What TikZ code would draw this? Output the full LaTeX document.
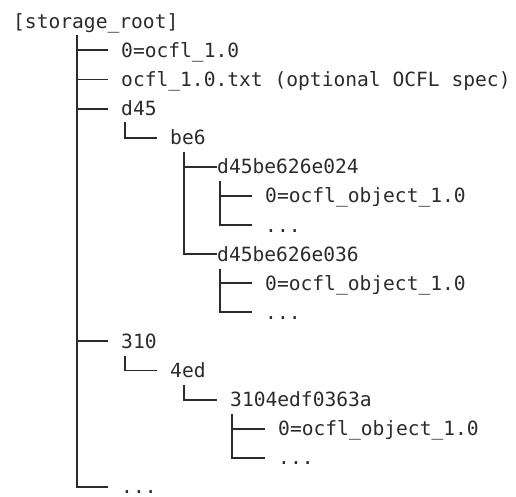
\documentclass[tikz,border=0pt]{standalone}
\usepackage{fontspec}
\setmonofont{DejaVu Sans Mono}
\usepackage{tikz}
\usetikzlibrary{positioning}
\definecolor{ink}{HTML}{2B2B2B}

\begin{document}
\begin{tikzpicture}[
	x=1pt, y=-1pt,
	every node/.style = {anchor=west, inner ysep=0pt, inner xsep=13pt,
	text=ink, font=\ttfamily\fontsize{19.6}{23}\selectfont,
	text height=16pt, text depth=2pt},
	tight/.style={inner xsep=0pt},
	branch/.style={draw=ink, line width=1.9pt}
]
\useasboundingbox (0,0) rectangle (516,497);

\node[inner xsep=0pt] (root) at (13,21.3) {[storage\_root]};
\node (nam) at (108,50.4) {0=ocfl\_1.0};
\node (spec) at (108,79.5) {ocfl\_1.0.txt (optional OCFL spec)};
\node (d) at (108,108.6) {d45};
\node (be) at (157,137.7) {be6};
\node[tight] (oa) at (217,166.8) {d45be626e024};
\node (oanam) at (252,195.9) {0=ocfl\_object\_1.0};
\node (oadots) at (252,225) {...};
\node[tight] (ob) at (217,254.1) {d45be626e036};
\node (obnam) at (252,283.2) {0=ocfl\_object\_1.0};
\node (obdots) at (252,312.3) {...};
\node (t) at (108,341.4) {310};
\node (ed) at (157,370.5) {4ed};
\node (oc) at (217,399.6) {3104edf0363a};
\node (ocnam) at (265,428.7) {0=ocfl\_object\_1.0};
\node (ocdots) at (265,457.8) {...};
\node (more) at (108,486.9) {...};

\coordinate (trunk) at (77,35.5);
\coordinate (dtrunk) at (125,122.5);
\coordinate (betrunk) at (184,152);
\coordinate (oatrunk) at (220,181);
\coordinate (obtrunk) at (220,268.5);
\coordinate (ttrunk) at (125,355.5);
\coordinate (edtrunk) at (184,384.5);
\coordinate (octrunk) at (232,414);

\foreach \c in {nam, spec, d, t, more}
	\draw[branch] (trunk) |- (\c.west);
\draw[branch] (dtrunk) |- (be.west);
\foreach \c in {oa, ob}
	\draw[branch] (betrunk) |- (\c.west);
\foreach \c in {oanam, oadots}
	\draw[branch] (oatrunk) |- (\c.west);
\foreach \c in {obnam, obdots}
	\draw[branch] (obtrunk) |- (\c.west);
\draw[branch] (ttrunk) |- (ed.west);
\draw[branch] (edtrunk) |- (oc.west);
\foreach \c in {ocnam, ocdots}
	\draw[branch] (octrunk) |- (\c.west);
\end{tikzpicture}
\end{document}
